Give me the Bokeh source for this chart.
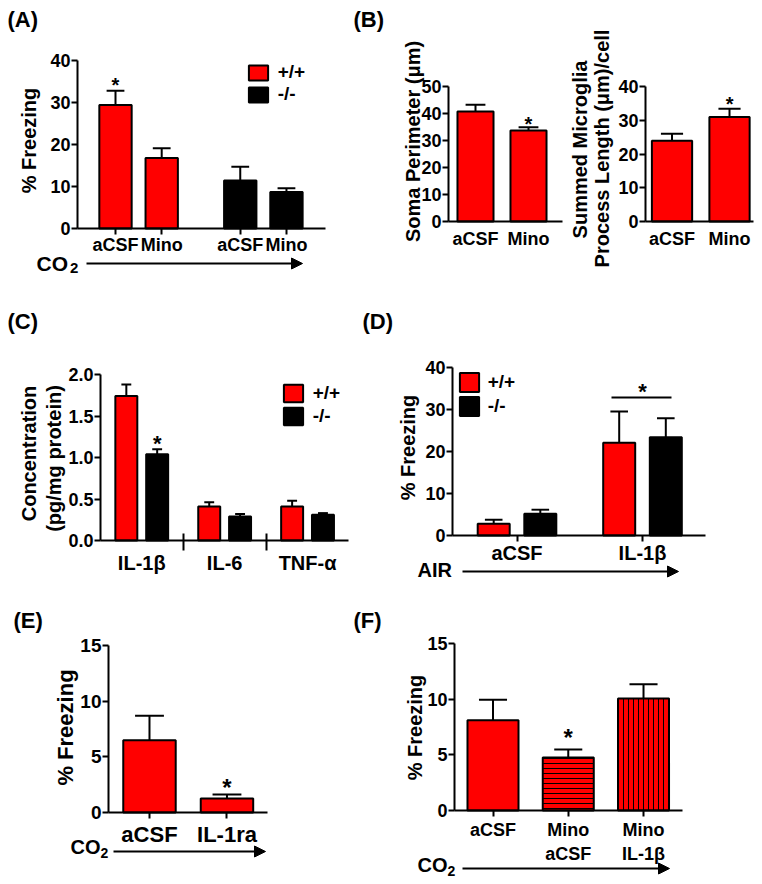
import math
from bokeh.plotting import figure
from bokeh.layouts import row, column
from bokeh.models import (Range1d, FixedTicker, Label, Arrow, NormalHead, Legend,
                          LegendItem, NumeralTickFormatter)
from bokeh.embed import file_html
from bokeh.resources import INLINE

FONT = "Liberation Sans"
RED = "#ff0000"
BLACK = "#000000"

# ---------------- data ----------------
# (A) CO2-evoked freezing after aCSF / minocycline, +/+ and -/-
a_treat = ["aCSF", "Mino"]
a_wt_mean = [29.4, 16.8]
a_wt_sem = [3.4, 2.3]
a_ko_mean = [11.4, 8.7]
a_ko_sem = [3.3, 0.9]
a_yticks = [0, 10, 20, 30, 40]

# (B) microglia morphology
b_treat = ["aCSF", "Mino"]
b_soma_mean = [40.7, 33.7]
b_soma_sem = [2.5, 1.2]
b_soma_yticks = [0, 10, 20, 30, 40, 50]
b_proc_mean = [23.9, 31.0]
b_proc_sem = [2.1, 2.4]
b_proc_yticks = [0, 10, 20, 30, 40]

# (C) cytokine concentration
c_cyto = ["IL-1β", "IL-6", "TNF-α"]
c_wt_mean = [1.74, 0.41, 0.41]
c_wt_sem = [0.14, 0.05, 0.07]
c_ko_mean = [1.04, 0.29, 0.31]
c_ko_sem = [0.06, 0.03, 0.02]
c_yticks = [0, 0.5, 1.0, 1.5, 2.0]

# (D) air freezing after aCSF / IL-1beta
d_treat = ["aCSF", "IL-1β"]
d_wt_mean = [2.8, 22.1]
d_wt_sem = [0.95, 7.4]
d_ko_mean = [5.2, 23.4]
d_ko_sem = [0.95, 4.5]
d_yticks = [0, 10, 20, 30, 40]

# (E) CO2 freezing, aCSF vs IL-1ra
e_treat = ["aCSF", "IL-1ra"]
e_mean = [6.5, 1.25]
e_sem = [2.2, 0.37]
e_yticks = [0, 5, 10, 15]

# (F) CO2 freezing, aCSF / Mino+aCSF / Mino+IL-1beta
f_treat = ["aCSF", "Mino\naCSF", "Mino\nIL-1β"]
f_mean = [8.1, 4.75, 10.05]
f_sem = [1.85, 0.72, 1.3]
f_hatch = [" ", "-", "|"]
f_yticks = [0, 5, 10, 15]

legend_labels = ["+/+", "-/-"]


# ---------------- helpers ----------------
class Panel:
    """A figure whose plotting frame fills the canvas; axes sit at fixed pixel places."""
    def __init__(self, cx, cy, w, h, axbox, xr, ymax):
        # axbox: (y-axis x pixel, y-axis top pixel, x-axis right pixel, x-axis y pixel)
        self.al, self.at, self.ar, self.ab = axbox
        self.xs, self.xe = xr
        self.ymax = ymax
        p = figure(width=w, height=h, title=None,
                   x_range=Range1d(self.X(cx), self.X(cx + w)),
                   y_range=Range1d(self.Y(cy + h), self.Y(cy)),
                   output_backend="svg", toolbar_location=None,
                   min_border_left=0, min_border_top=0,
                   min_border_right=0, min_border_bottom=0)
        p.xgrid.visible = False
        p.ygrid.visible = False
        p.outline_line_color = None
        p.background_fill_color = "white"
        p.border_fill_color = "white"
        self.p = p
        self.cx, self.cy, self.w, self.h = cx, cy, w, h

    def X(self, sx):
        return self.xs + (sx - self.al) / (self.ar - self.al) * (self.xe - self.xs)

    def Y(self, sy):
        return (self.ab - sy) / (self.ab - self.at) * self.ymax

    def text(self, txt, sx, sy, size, align="center", angle=0):
        self.p.add_layout(Label(x=self.X(sx), y=self.Y(sy), text=txt, text_font=FONT,
                                text_font_style="bold", text_font_size=f"{size}px",
                                text_color=BLACK, text_align=align,
                                text_baseline="middle", angle=angle))

    def star(self, x_data, sy_center, size):
        # an asterisk sits about 0.15 em above the middle line of its text box
        self.p.add_layout(Label(x=x_data, y=self.Y(sy_center + 0.15 * size), text="*",
                                text_font=FONT, text_font_style="bold",
                                text_font_size=f"{size}px", text_color=BLACK,
                                text_align="center", text_baseline="middle"))

    def arrow(self, sx0, sx1, sy):
        self.p.add_layout(Arrow(x_start=self.X(sx0), y_start=self.Y(sy),
                                x_end=self.X(sx1), y_end=self.Y(sy),
                                line_color=BLACK, line_width=2,
                                end=NormalHead(size=11, fill_color=BLACK,
                                               line_color=BLACK, line_width=1)))

    def co2(self, sx, sy, size, sub_x, sub_y, sub_size):
        self.text("CO", sx, sy, size, align="left")
        self.text("2", sub_x, sub_y, sub_size, align="left")

    def axes(self, tick_size, xlab_size, yticks, xticks, xlabels, fmt=None,
             x_tick_out=6, x_standoff=3, minor=None):
        p = self.p
        for ax in p.axis:
            ax.axis_line_width = 2
            ax.axis_line_color = BLACK
            ax.major_tick_line_width = 2
            ax.major_tick_line_color = BLACK
            ax.major_tick_in = 0
            ax.major_tick_out = 6
            ax.minor_tick_line_color = None
            ax.major_label_text_font = FONT
            ax.major_label_text_font_style = "bold"
            ax.major_label_text_color = BLACK
        yax = p.yaxis[0]
        yax.fixed_location = self.xs
        yax.bounds = (0, self.ymax)
        yax.ticker = FixedTicker(ticks=yticks)
        yax.major_label_text_font_size = f"{tick_size}px"
        yax.major_label_standoff = 1
        if fmt:
            yax.formatter = NumeralTickFormatter(format=fmt)
        xax = p.xaxis[0]
        xax.fixed_location = 0
        xax.bounds = (self.xs, self.xe)
        xax.ticker = FixedTicker(ticks=xticks, minor_ticks=minor or [])
        xax.major_label_overrides = {t: l for t, l in zip(xticks, xlabels)}
        xax.major_label_text_font_size = f"{xlab_size}px"
        xax.major_tick_out = x_tick_out
        xax.major_label_standoff = x_standoff
        if minor:
            xax.minor_tick_line_color = BLACK
            xax.minor_tick_line_width = 2
            xax.minor_tick_in = 7
            xax.minor_tick_out = 10

    def bars(self, xs, means, sems, width, color, cap_frac=0.55, hatch=None):
        p = self.p
        kw = {}
        if hatch is not None:
            kw = dict(hatch_pattern=hatch, hatch_color=BLACK, hatch_scale=5, hatch_weight=1)
        r = p.vbar(x=xs, top=means, bottom=0, width=width, fill_color=color,
                   line_color=BLACK, line_width=2, **kw)
        tops = [m + s for m, s in zip(means, sems)]
        p.segment(x0=xs, y0=means, x1=xs, y1=tops, line_color=BLACK, line_width=2)
        cw = width * cap_frac
        p.segment(x0=[x - cw / 2 for x in xs], y0=tops, x1=[x + cw / 2 for x in xs],
                  y1=tops, line_color=BLACK, line_width=2)
        return r

    def legend(self, rends, gx, gy, gw, gh, rowh, fs, text_x):
        GW, GH = gw / 0.8, gh / 0.8
        top = gy - 0.1 * GH
        leg = Legend(items=[LegendItem(label=l, renderers=[r]) for l, r in zip(legend_labels, rends)],
                     glyph_width=round(GW), glyph_height=round(GH),
                     label_height=rowh, spacing=0, padding=0, margin=0,
                     label_standoff=round(text_x - (gx + gw) - 0.1 * GW),
                     border_line_color=None, background_fill_alpha=0,
                     label_text_font=FONT, label_text_font_style="bold",
                     label_text_font_size=f"{fs}px", label_text_color=BLACK,
                     location=(gx - 0.1 * GW - self.cx, (self.cy + self.h) - (top + 2 * rowh)))
        self.p.add_layout(leg)


ROT = math.pi / 2
H1, H2, H3 = 290, 300, 292

# ---------------- (A) ----------------
A = Panel(0, 0, 350, H1, (77, 60, 325, 228), (0.1775, 5.545), 40)
a_x_wt = [1.0, 2.0]
a_x_ko = [round(x + 2.7, 4) for x in a_x_wt]
A.axes(18, 18, a_yticks, a_x_wt + a_x_ko, a_treat + a_treat, x_standoff=0)
rA1 = A.bars(a_x_wt, a_wt_mean, a_wt_sem, 0.7, RED)
rA2 = A.bars(a_x_ko, a_ko_mean, a_ko_sem, 0.7, BLACK)
A.legend([rA1, rA2], 248, 63, 19, 15, 22, 19, 277)
A.text("(A)", 7, 19, 22, align="left")
A.text("% Freezing", 28, 140, 20, angle=ROT)
A.star(a_x_wt[0], 81, 20)
A.co2(36, 262.5, 21, 69.5, 267, 15)
A.arrow(86, 302, 263)

# ---------------- (B) ----------------
B1 = Panel(350, 0, 213, H1, (448, 86, 562, 221), (0.4906, 2.6415), 50)
b_x = [1.0, 2.0]
B1.axes(18, 18, b_soma_yticks, b_x, b_treat, x_tick_out=0, x_standoff=7)
B1.bars(b_x, b_soma_mean, b_soma_sem, 0.68, RED)
B1.text("(B)", 353, 19, 22, align="left")
B1.text("Soma Perimeter (μm)", 412, 141, 20, angle=ROT)
B1.star(b_x[1], 120, 20)

B2 = Panel(563, 0, 199, H1, (645, 86, 753, 221), (0.539, 2.417), 40)
B2.axes(18, 18, b_proc_yticks, b_x, b_treat, x_tick_out=0, x_standoff=7)
B2.bars(b_x, b_proc_mean, b_proc_sem, 0.7, RED)
B2.text("Summed Microglia", 579, 149, 20, angle=ROT)
B2.text("Process Length (μm)/cell", 601.5, 148, 20, angle=ROT)
B2.star(b_x[1], 100, 20)

# ---------------- (C) ----------------
C = Panel(0, 290, 352, H2, (100, 374, 348, 540), (0.5024, 3.494), 2.0)
c_g = [1.0, 2.0, 3.0]
c_off = 0.186
c_x_wt = [round(g - c_off, 4) for g in c_g]
c_x_ko = [round(g + c_off, 4) for g in c_g]
C.axes(18, 20, c_yticks, c_g, c_cyto, fmt="0.0", x_tick_out=0, x_standoff=1,
       minor=[1.5, 2.5])
rC1 = C.bars(c_x_wt, c_wt_mean, c_wt_sem, 0.265, RED, cap_frac=0.45)
rC2 = C.bars(c_x_ko, c_ko_mean, c_ko_sem, 0.265, BLACK, cap_frac=0.45)
C.legend([rC1, rC2], 283, 384, 19, 18, 23, 19, 312)
C.text("(C)", 7, 321, 22, align="left")
C.text("Concentration", 28.5, 453, 20, angle=ROT)
C.text("(pg/mg protein)", 53.5, 458, 20, angle=ROT)
C.star(c_x_ko[0], 440, 22)

# ---------------- (D) ----------------
D = Panel(352, 290, 410, H2, (452, 367, 705, 535), (0.486, 2.502), 40)
d_g = [1.0, 2.0]
d_off = 0.1857
d_x_wt = [round(g - d_off, 4) for g in d_g]
d_x_ko = [round(g + d_off, 4) for g in d_g]
D.axes(18, 20, d_yticks, d_g, d_treat, x_standoff=0)
rD1 = D.bars(d_x_wt, d_wt_mean, d_wt_sem, 0.255, RED)
rD2 = D.bars(d_x_ko, d_ko_mean, d_ko_sem, 0.255, BLACK)
D.legend([rD1, rD2], 459, 372, 19, 19, 24, 19, 487)
D.text("(D)", 362, 321, 22, align="left")
D.text("% Freezing", 407.5, 447, 20, angle=ROT)
D.p.segment(x0=[D.X(611)], y0=[D.Y(397)], x1=[D.X(671)], y1=[D.Y(397)],
            line_color=BLACK, line_width=2)
D.star(d_g[1], 388, 22)
D.text("AIR", 417, 569.5, 20, align="left")
D.arrow(462, 678, 571)

# ---------------- (E) ----------------
E = Panel(0, 590, 350, H3, (108, 645, 267, 812), (0.471, 2.523), 15)
e_x = [1.0, 2.0]
E.axes(19, 22, e_yticks, e_x, e_treat, x_standoff=3)
E.bars(e_x, e_mean, e_sem, 0.677, RED)
E.text("(E)", 13, 620, 22, align="left")
E.text("% Freezing", 65, 727, 22, angle=ROT)
E.star(e_x[1], 783, 24)
E.co2(70, 846.5, 20, 100, 852, 14)
E.arrow(113, 265, 851)

# ---------------- (F) ----------------
F = Panel(350, 590, 412, H3, (454, 643, 682, 810), (0.4884, 3.518), 15)
f_x = [1.0, 2.0, 3.0]
F.axes(18, 18, f_yticks, f_x, f_treat, x_standoff=3)
F.bars(f_x, f_mean, f_sem, 0.678, RED, hatch=f_hatch)
F.text("(F)", 353, 620, 22, align="left")
F.text("% Freezing", 414, 727, 20, angle=ROT)
F.star(f_x[1], 733, 24)
F.co2(417, 864.5, 20, 447, 870, 14)
F.arrow(462, 669, 868)

layout = column(row(A.p, B1.p, B2.p), row(C.p, D.p), row(E.p, F.p))

with open("out.html", "w") as fh:
    fh.write(file_html(layout, INLINE))
